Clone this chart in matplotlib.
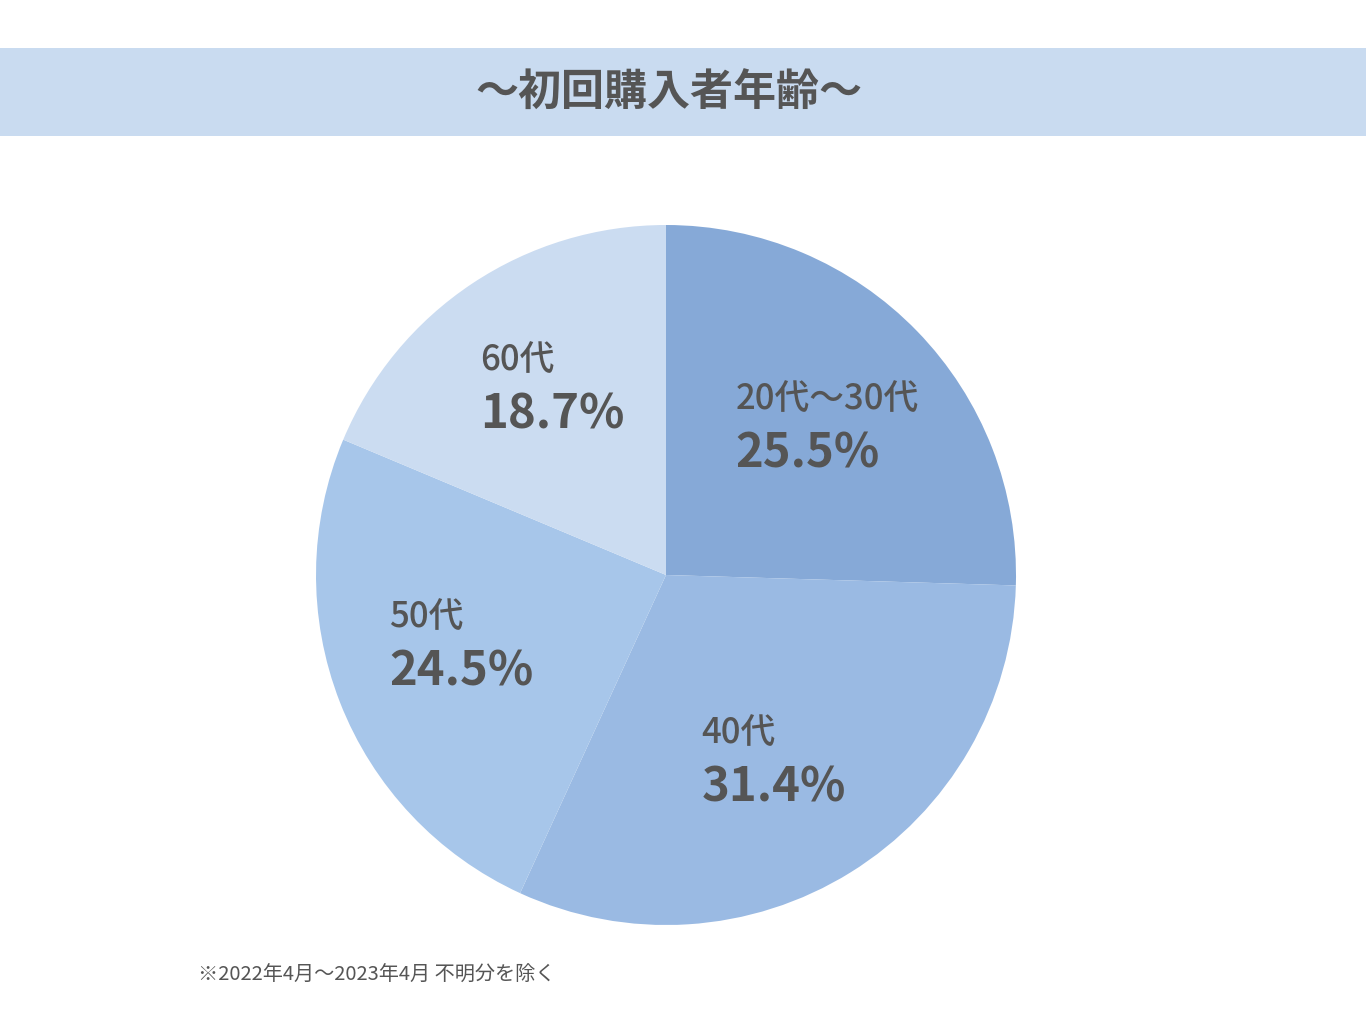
import numpy as np
import matplotlib
matplotlib.use("Agg")
import matplotlib.pyplot as plt
from matplotlib.patches import Rectangle
from matplotlib.offsetbox import TextArea, VPacker, AnnotationBbox

plt.rcParams['font.family'] = ['Noto Sans CJK JP', 'DejaVu Sans']

# データ
title = "～初回購入者年齢～"
labels = ["20代～30代", "40代", "50代", "60代"]
shares = [25.5, 31.4, 24.5, 18.7]
colors = ["#86a9d7", "#9abae3", "#a7c6ea", "#cbdcf1"]
note = "※2022年4月～2023年4月 不明分を除く"

text_color = "#555555"

fig = plt.figure(figsize=(13.66, 10.32), dpi=100)
fig.patch.set_facecolor("white")

# タイトル帯
fig.patches.append(Rectangle((0, 1 - 136 / 1032), 1, 88 / 1032, transform=fig.transFigure,
                             facecolor="#c9dbf0", edgecolor="none", zorder=0))
fig.text(0.5 - 14 / 1366, 1 - 93 / 1032, title, ha="center", va="center", fontsize=31,
         fontweight="bold", color=text_color)

# 円グラフ
ax = fig.add_axes([(666 - 350) / 1366, (1032 - 575 - 350) / 1032, 700 / 1366, 700 / 1032])
wedges, _ = ax.pie(shares, colors=colors, startangle=90, counterclock=False,
                   radius=1, wedgeprops=dict(linewidth=0))
ax.set_xlim(-1, 1)
ax.set_ylim(-1, 1)
ax.set_aspect("equal")
ax.axis("off")

for w, lab, v in zip(wedges, labels, shares):
    mid = np.deg2rad((w.theta1 + w.theta2) / 2 - 2)
    r = 0.62
    x, y = r * np.cos(mid), r * np.sin(mid)
    t1 = TextArea(lab, textprops=dict(fontsize=25, color=text_color, fontweight="medium"))
    t2 = TextArea(f"{v}%", textprops=dict(fontsize=34, color=text_color, fontweight="bold"))
    box = VPacker(children=[t1, t2], align="left", pad=0, sep=9)
    ab = AnnotationBbox(box, (x, y), xycoords="data", frameon=False, box_alignment=(0.5, 0.5))
    ax.add_artist(ab)

# 注記
fig.text(198 / 1366, 1 - 975 / 1032, note, ha="left", va="center", fontsize=14.5,
         color=text_color)

fig.savefig("out.png", dpi=100, facecolor="white")
